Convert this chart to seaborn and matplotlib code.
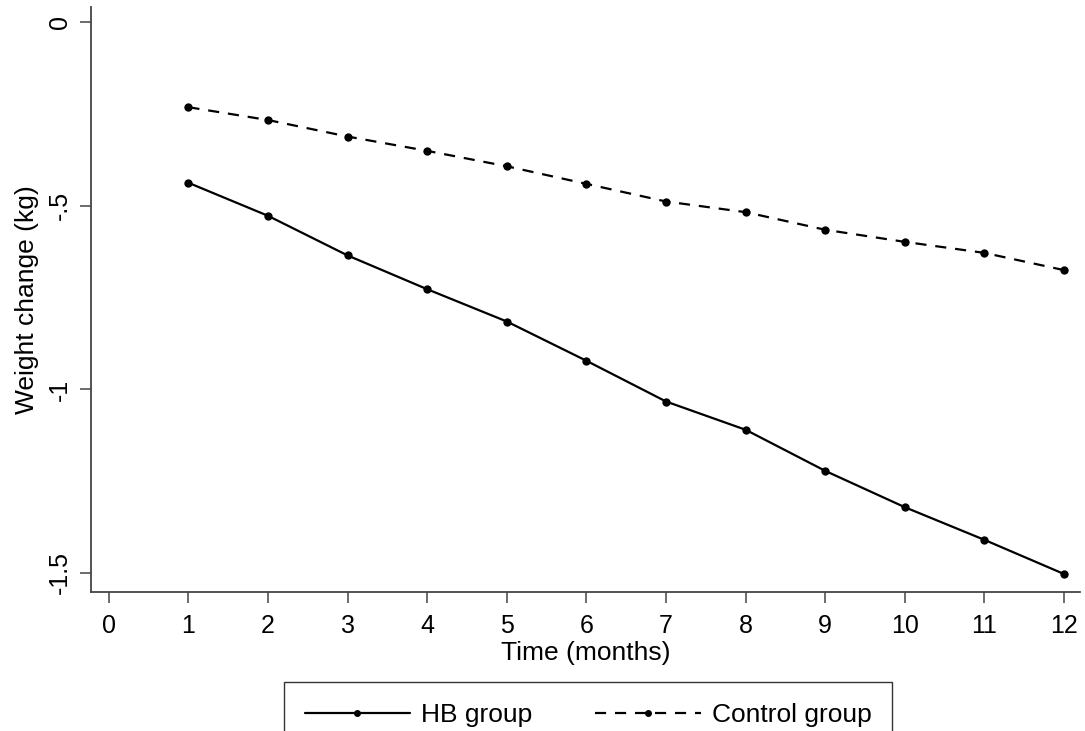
import matplotlib
matplotlib.use("Agg")
import matplotlib.pyplot as plt
import seaborn as sns
import pandas as pd
from matplotlib.lines import Line2D

months = [1, 2, 3, 4, 5, 6, 7, 8, 9, 10, 11, 12]
hb_group = [-0.437, -0.527, -0.635, -0.727, -0.815, -0.922, -1.033, -1.110, -1.222, -1.321, -1.410, -1.503]
control_group = [-0.231, -0.266, -0.311, -0.350, -0.392, -0.440, -0.488, -0.517, -0.565, -0.598, -0.628, -0.675]
group_names = ["HB group", "Control group"]
x_ticks = list(range(0, 13))
y_ticks = [0, -0.5, -1, -1.5]
y_tick_labels = ["0", "-.5", "-1", "-1.5"]

df = pd.DataFrame({
    "month": months * 2,
    "change": hb_group + control_group,
    "group": [group_names[0]] * len(months) + [group_names[1]] * len(months),
})

sns.set_style("white")
plt.rcParams["font.family"] = ["Liberation Sans", "DejaVu Sans"]
plt.rcParams["text.color"] = "black"
plt.rcParams["axes.labelcolor"] = "black"
plt.rcParams["xtick.color"] = "black"
plt.rcParams["ytick.color"] = "black"

fig = plt.figure(figsize=(10.85, 7.31), dpi=100)
ax = fig.add_axes([91 / 1085, 1 - 592 / 731, (1080 - 91) / 1085, (592 - 7) / 731])

sns.lineplot(
    data=df, x="month", y="change", hue="group", style="group",
    palette={group_names[0]: "black", group_names[1]: "black"},
    dashes={group_names[0]: "", group_names[1]: (5, 4)},
    markers={group_names[0]: "o", group_names[1]: "o"},
    markersize=6, linewidth=1.6, markeredgewidth=0, ax=ax, legend=False,
)

ax.set_xlim(-0.224, 12.2)
ax.set_ylim(-1.552, 0.042)
ax.set_xticks(x_ticks)
ax.set_xticklabels([str(t) for t in x_ticks], fontsize=18)
ax.set_yticks(y_ticks)
ax.set_yticklabels(y_tick_labels, fontsize=18, rotation=90, va="center")
ax.set_xlabel("Time (months)", fontsize=19, labelpad=2)
ax.set_ylabel("Weight change (kg)", fontsize=19, labelpad=6)

for side in ["top", "right"]:
    ax.spines[side].set_visible(False)
for side in ["left", "bottom"]:
    ax.spines[side].set_color("#444444")
    ax.spines[side].set_linewidth(1.3)
ax.tick_params(axis="both", direction="out", length=8, width=1.1, color="#444444",
               left=True, bottom=True, labelcolor="black")
ax.tick_params(axis="x", pad=8)
ax.tick_params(axis="y", pad=6)

handles = [
    Line2D([0], [0], color="black", lw=1.6, marker="o", markersize=5, markeredgewidth=0),
    Line2D([0], [0], color="black", lw=1.6, ls=(0, (5, 4)), marker="o", markersize=5, markeredgewidth=0),
]
leg = ax.legend(handles, group_names, loc="upper center", bbox_to_anchor=(0.5025, -0.154),
                borderaxespad=0, ncol=2, fontsize=19, frameon=True, fancybox=False,
                handlelength=4.0, columnspacing=2.4, borderpad=0.8, handletextpad=0.4)
leg.get_frame().set_edgecolor("black")
leg.get_frame().set_linewidth(1.0)

fig.savefig("out.png", dpi=100, facecolor="white")
